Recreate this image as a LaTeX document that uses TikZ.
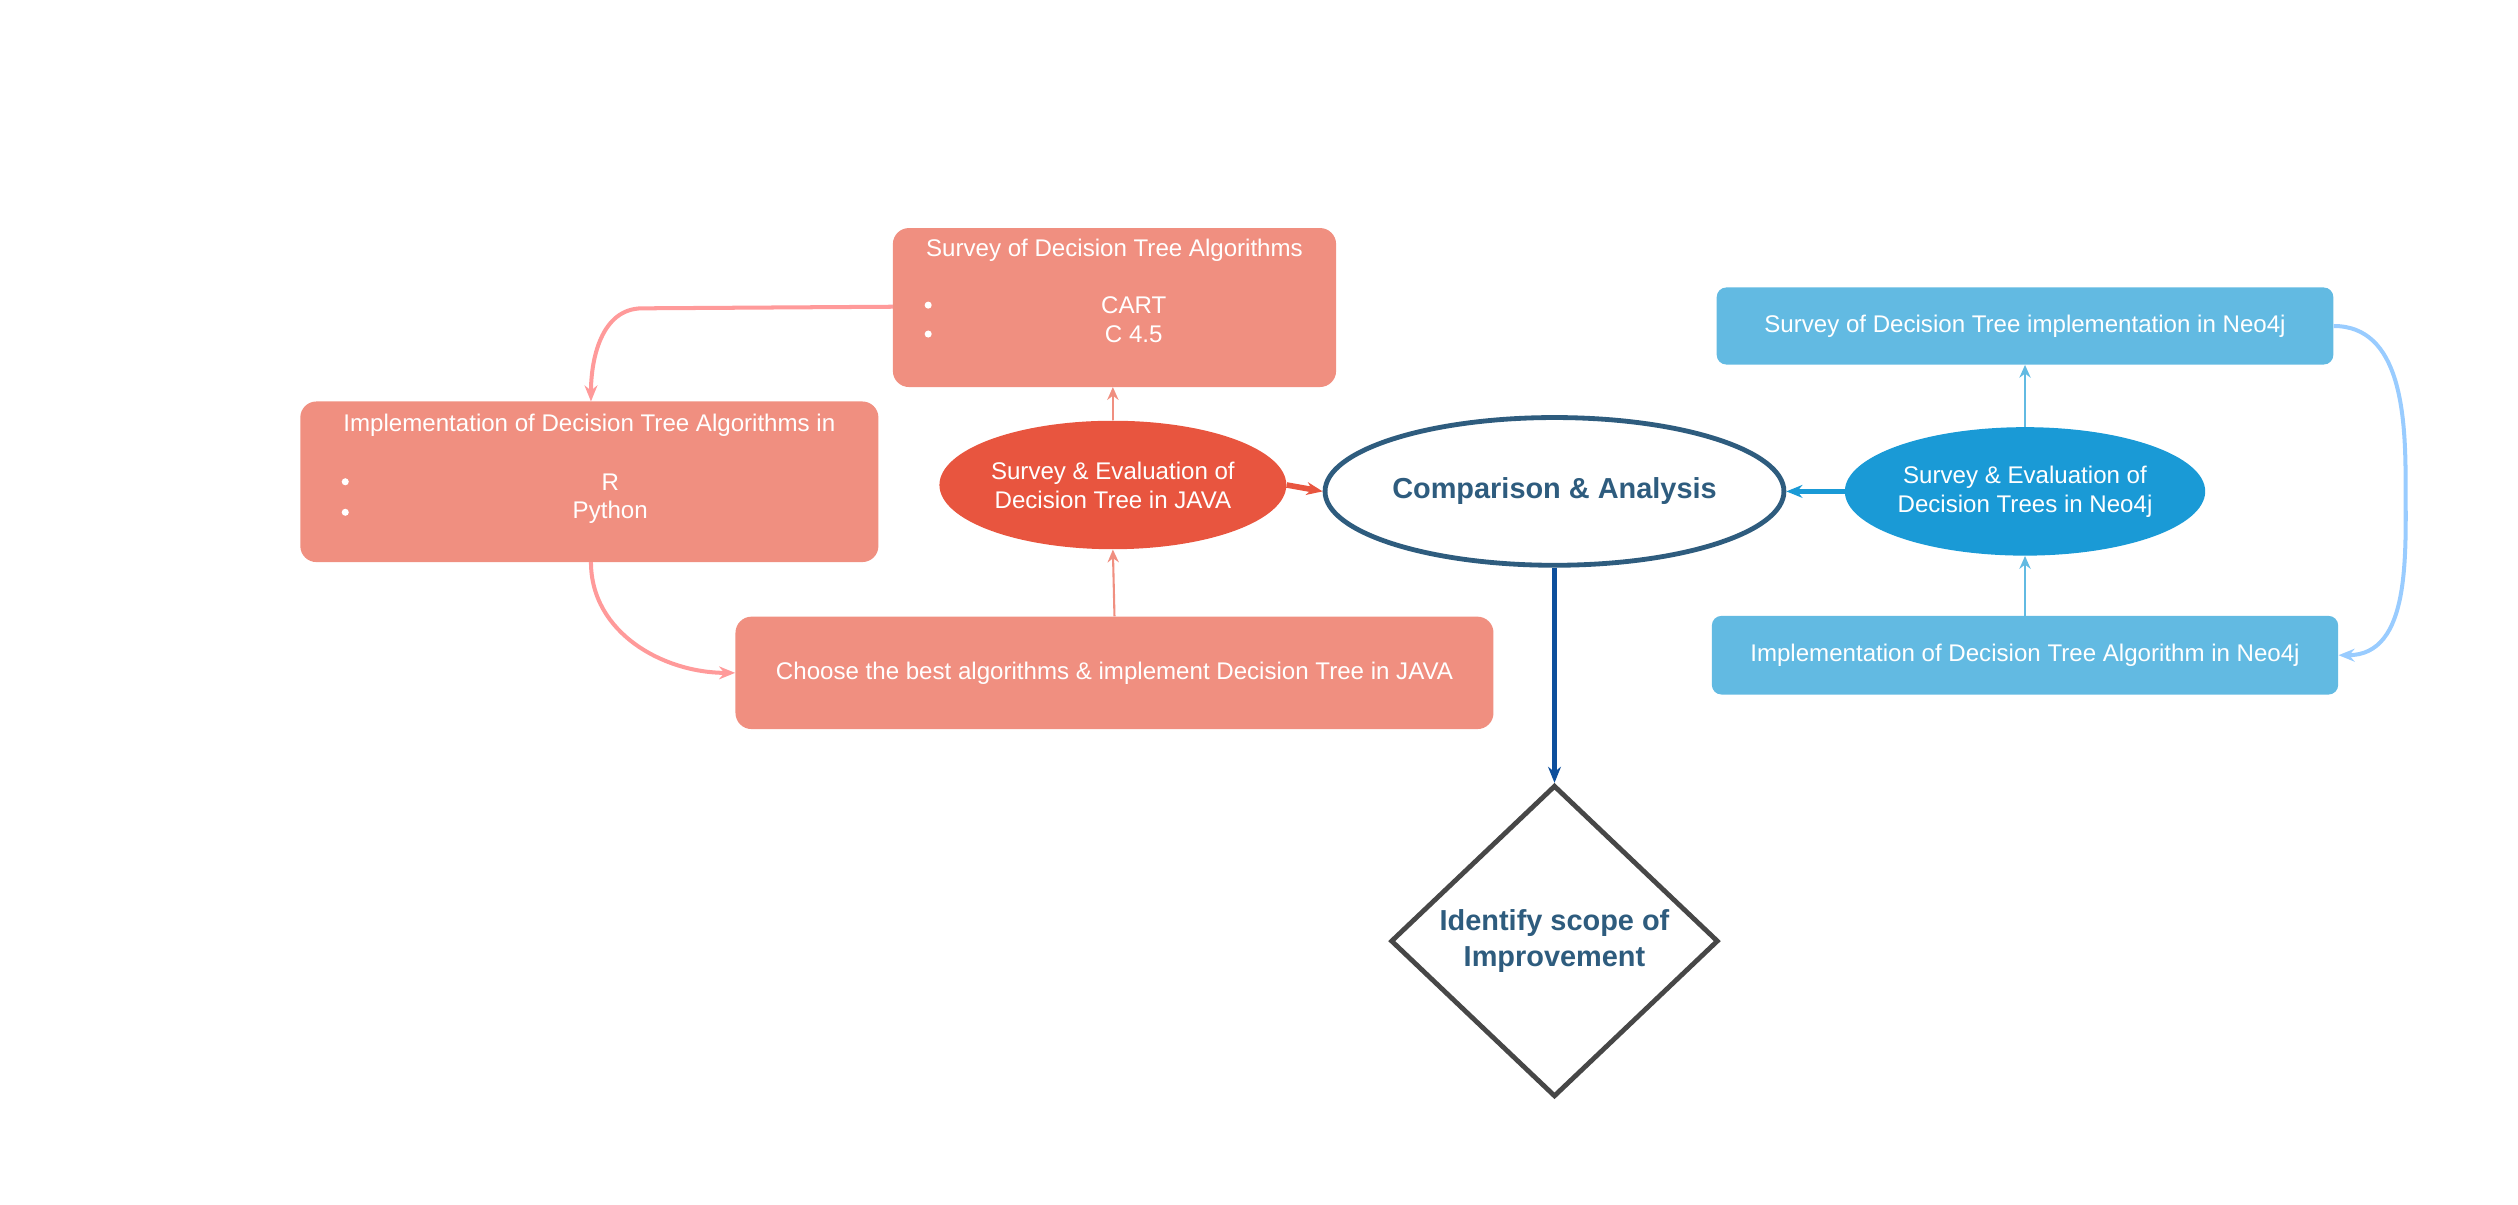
\documentclass[tikz,border=0pt]{standalone}
\usepackage{fontspec}
\setmainfont{Liberation Sans}
\usetikzlibrary{shapes.geometric,arrows.meta}
\definecolor{salmon}{HTML}{F08F80}
\definecolor{redd}{HTML}{E8553F}
\definecolor{pinkl}{HTML}{FF9A9A}
\definecolor{bluel}{HTML}{62BAE2}
\definecolor{blued}{HTML}{1A9AD6}
\definecolor{navy}{HTML}{2E5C7E}
\definecolor{arrb}{HTML}{0D4F9C}
\definecolor{skyl}{HTML}{99CCFF}
\begin{document}
\begin{tikzpicture}[x=1pt,y=-1pt,
  box/.style={rounded corners=10pt,draw=none,text=white,font=\fontsize{15}{18}\selectfont},
  ell/.style={ellipse,draw=none,text=white,align=center,font=\fontsize{15}{18}\selectfont,inner sep=0},
  thin/.style={-{Stealth[length=8pt,width=7pt]},line width=1.3pt},
  curv/.style={-{Stealth[length=10pt,width=8pt]},line width=2.5pt}]
\useasboundingbox (0,0) rectangle (1568,750);
% boxes
\fill[salmon,rounded corners=10pt] (556,142) rectangle (832,241);
\node[box] (A) at (694,191) {};
\node[text=white,font=\fontsize{15}{18}\selectfont] at (694,156) {Survey of Decision Tree Algorithms};
\node[text=white,font=\fontsize{15}{18}\selectfont] at (706,190) {CART};
\node[text=white,font=\fontsize{15}{18}\selectfont] at (706,208) {C 4.5};
\fill[white] (578,190) circle (2.2) (578,208) circle (2.2);
\coordinate (Al) at (556,191); \coordinate (Ab) at (693,241);

\fill[salmon,rounded corners=10pt] (187,250) rectangle (547,350);
\node[text=white,font=\fontsize{15}{18}\selectfont] at (367,265) {Implementation of Decision Tree Algorithms in};
\node[text=white,font=\fontsize{15}{18}\selectfont] at (380,300) {R};
\node[text=white,font=\fontsize{15}{18}\selectfont] at (380,319) {Python};
\fill[white] (215,300) circle (2.2) (215,319) circle (2.2);
\coordinate (Bt) at (368,250); \coordinate (Bb) at (368,350);

\node[box,fill=salmon,minimum width=472pt,minimum height=70pt] (C) at (694,419) {Choose the best algorithms \& implement Decision Tree in JAVA};

\node[ell,fill=redd,minimum width=216pt,minimum height=80pt] (D) at (693,302) {Survey \& Evaluation of\\Decision Tree in JAVA};
\node[ell,draw=navy,line width=3pt,fill=white,text=navy,minimum width=256pt,minimum height=92pt,font=\fontsize{18}{22}\selectfont\bfseries] (E) at (968,306) {Comparison \& Analysis};
\node[ell,fill=blued,minimum width=216pt,minimum height=80pt] (F) at (1261,306) {Survey \& Evaluation of\\Decision Trees in Neo4j};

\node[box,fill=bluel,minimum width=384pt,minimum height=48pt,rounded corners=6pt] (G) at (1261,203) {Survey of Decision Tree implementation in Neo4j};
\node[box,fill=bluel,minimum width=390pt,minimum height=49pt,rounded corners=6pt] (H) at (1261,408) {Implementation of Decision Tree Algorithm in Neo4j};

\node[diamond,draw=black!72,line width=3pt,fill=white,text=navy,minimum width=204pt,minimum height=194pt,align=center,inner sep=0,font=\fontsize{18}{22}\selectfont\bfseries] (K) at (968,586) {Identify scope of\\Improvement};

% connectors
\draw[curv,pinkl,line width=2.5pt] (Al) -- (400,192) to[out=180,in=90] (Bt);
\draw[curv,pinkl] (Bb) to[out=-90,in=180] (C.west);
\draw[thin,salmon] (D.north) -- (Ab);
\draw[thin,salmon] (C.north) -- (D.south);
\draw[curv,redd,line width=3.5pt] (D.east) -- (E.west);
\draw[curv,blued,line width=3.5pt] (F.west) -- (E.east);
\draw[curv,arrb,line width=2.5pt] (E.south) -- (K.north);
\draw[thin,bluel] (F.north) -- (G.south);
\draw[thin,bluel] (H.north) -- (F.south);
\draw[curv,skyl] (G.east) to[out=0,in=90] (1498,300) to[out=-90,in=0] (H.east);
\end{tikzpicture}
\end{document}
